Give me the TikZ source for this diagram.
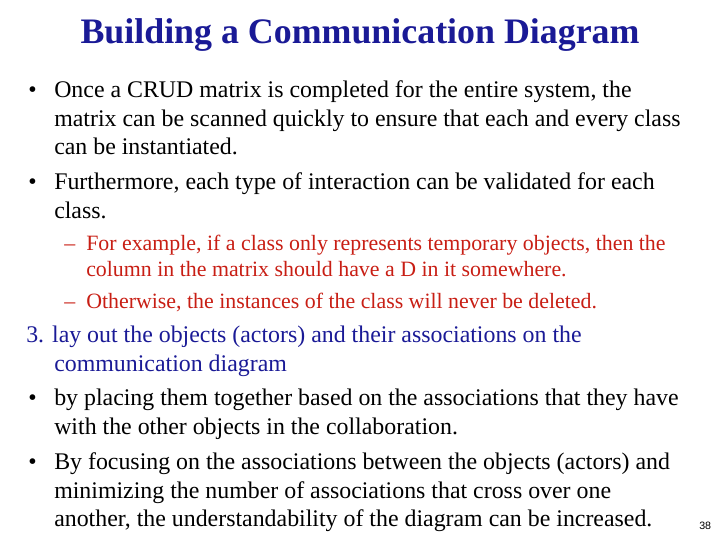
\documentclass[tikz,border=0pt]{standalone}
\usepackage{fontspec}
\setmainfont{Liberation Serif}
\newfontfamily\numfont{Liberation Sans}
\definecolor{ttl}{RGB}{26,26,150}
\definecolor{rd}{RGB}{200,30,20}
\begin{document}
\begin{tikzpicture}[x=0.75pt,y=-0.75pt,
  body/.style={anchor=base west,inner sep=0,font=\fontsize{17.9}{20}\selectfont},
  sub/.style={anchor=base west,inner sep=0,font=\fontsize{16.4}{18}\selectfont,text=rd},
  blu/.style={body,text=ttl}]
\useasboundingbox (0,0) rectangle (720,540);
\node[anchor=base,inner sep=0,font=\fontsize{26.9}{30}\selectfont\bfseries,text=ttl] (t) at (360,43) {Building a Communication Diagram};
\node[body] (b1) at (28,97) {•};
\node[body] (l1) at (54,97) {Once a CRUD matrix is completed for the entire system, the};
\node[body] (l2) at (54,126) {matrix can be scanned quickly to ensure that each and every class};
\node[body] (l3) at (54,154) {can be instantiated.};
\node[body] (b2) at (28,189) {•};
\node[body] (l4) at (54,189) {Furthermore, each type of interaction can be validated for each};
\node[body] (l5) at (54,218) {class.};
\node[sub] (d1) at (64,250) {–};
\node[sub] (r1) at (86,250) {For example, if a class only represents temporary objects, then the};
\node[sub] (r2) at (86,276) {column in the matrix should have a D in it somewhere.};
\node[sub] (d2) at (64,308) {–};
\node[sub] (r3) at (86,308) {Otherwise, the instances of the class will never be deleted.};
\node[blu] (s1) at (26,342) {3. lay out the objects (actors) and their associations on the};
\node[blu] (s2) at (54,371) {communication diagram};
\node[body] (b3) at (28,405) {•};
\node[body] (l6) at (54,405) {by placing them together based on the associations that they have};
\node[body] (l7) at (54,434) {with the other objects in the collaboration.};
\node[body] (b4) at (28,469) {•};
\node[body] (l8) at (54,469) {By focusing on the associations between the objects (actors) and};
\node[body] (l9) at (54,498) {minimizing the number of associations that cross over one};
\node[body] (l10) at (54,526) {another, the understandability of the diagram can be increased.};
\node[anchor=base west,inner sep=0,font=\numfont\fontsize{8}{9}\selectfont] (pg) at (699,529) {38};
\end{tikzpicture}
\end{document}
